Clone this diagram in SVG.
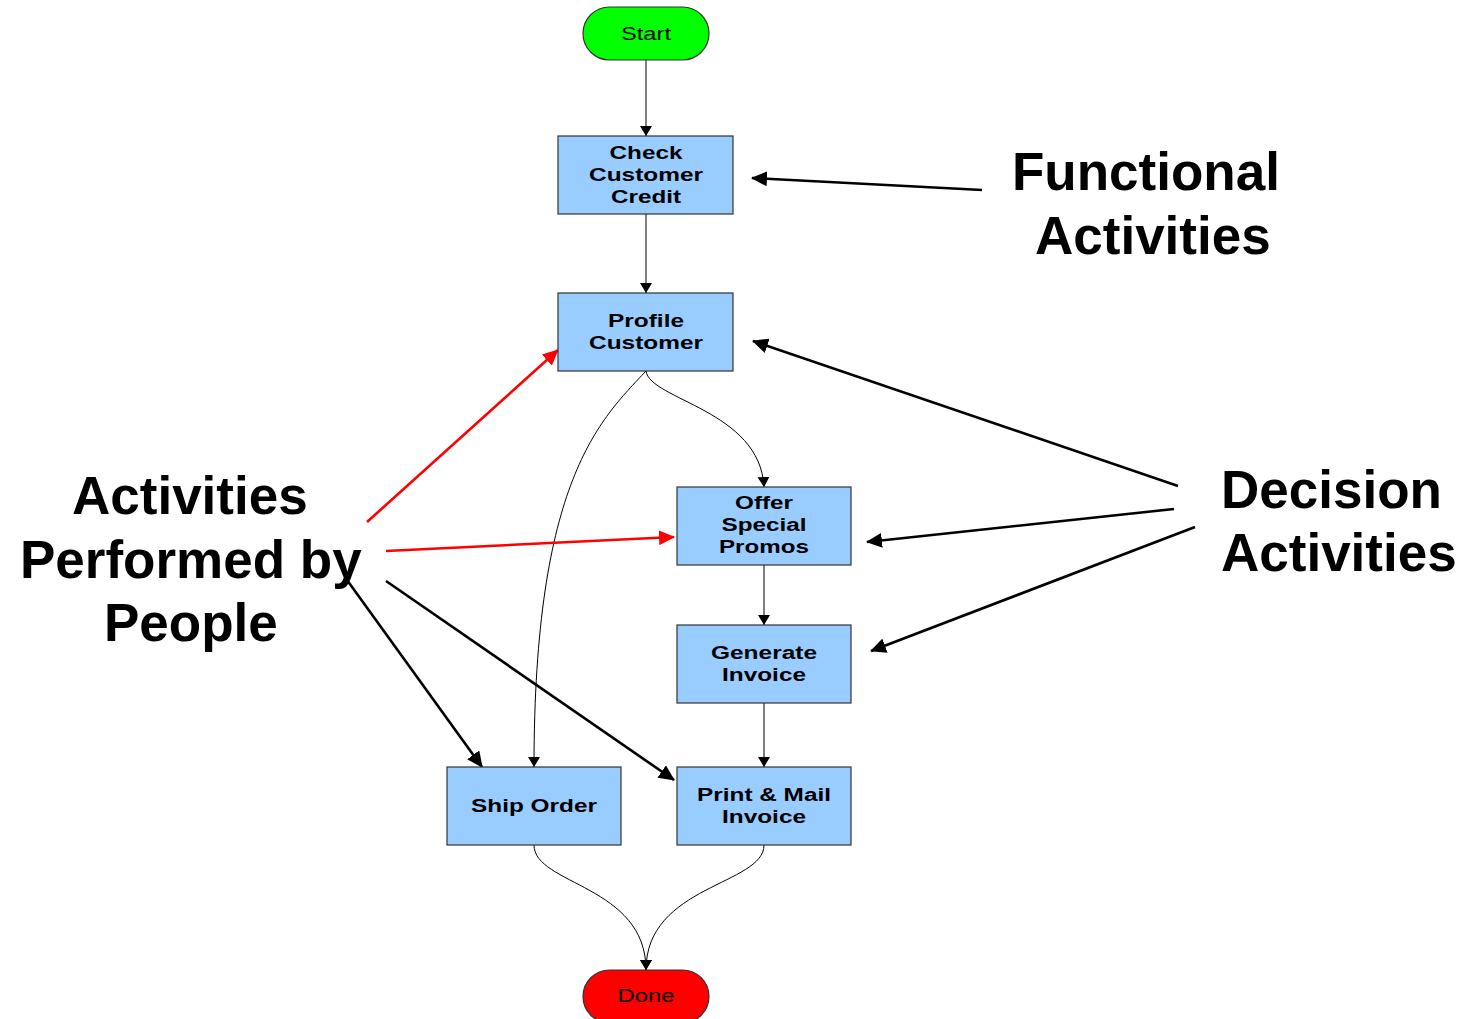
<svg xmlns="http://www.w3.org/2000/svg" width="1461" height="1019" viewBox="0 0 1461 1019">
<style>
.box{fill:#99CCFF;stroke:#333;stroke-width:1.2}
.t{font-family:"Liberation Sans",Arial,sans-serif;font-size:18px;font-weight:bold;fill:#000;text-anchor:middle}
.tr{font-family:"Liberation Sans",Arial,sans-serif;font-size:18px;fill:#000;text-anchor:middle}
.big{font-family:"Liberation Sans",Arial,sans-serif;font-size:53px;font-weight:bold;fill:#000}
.thin{fill:none;stroke:#000;stroke-width:1}
.thick{fill:none;stroke:#000;stroke-width:2.6}
.red{fill:none;stroke:#FF0000;stroke-width:2.6}
</style>
<defs>
<marker id="ah" markerUnits="userSpaceOnUse" viewBox="0 0 10 12" markerWidth="10" markerHeight="12" refX="10" refY="6" orient="auto"><path d="M0,0 L10,6 L0,12 z" fill="#000"/></marker>
<marker id="bh" markerUnits="userSpaceOnUse" viewBox="0 0 16 15" markerWidth="16" markerHeight="15" refX="15" refY="7.5" orient="auto"><path d="M0,0 L16,7.5 L0,15 z" fill="#000"/></marker>
<marker id="rh" markerUnits="userSpaceOnUse" viewBox="0 0 16 15" markerWidth="16" markerHeight="15" refX="15" refY="7.5" orient="auto"><path d="M0,0 L16,7.5 L0,15 z" fill="#FF0000"/></marker>
</defs>
<rect width="1461" height="1019" fill="#fff"/>

<g id="connectors">
<line class="thin" x1="646" y1="60" x2="646" y2="136" marker-end="url(#ah)"/>
<line class="thin" x1="646" y1="214" x2="646" y2="293" marker-end="url(#ah)"/>
<path class="thin" d="M646,371 C650,400 760,410 764,487" marker-end="url(#ah)"/>
<path class="thin" d="M646,371 C600,420 534,480 534,767" marker-end="url(#ah)"/>
<line class="thin" x1="764" y1="565" x2="764" y2="625" marker-end="url(#ah)"/>
<line class="thin" x1="764" y1="703" x2="764" y2="767" marker-end="url(#ah)"/>
<path class="thin" d="M534,845 C534,885 646,885 646,970" marker-end="url(#ah)"/>
<path class="thin" d="M764,845 C764,885 646,885 646,970" marker-end="url(#ah)"/>

<line class="thick" x1="982" y1="190" x2="752" y2="178" marker-end="url(#bh)"/>
<line class="thick" x1="1178" y1="486" x2="753" y2="341" marker-end="url(#bh)"/>
<line class="thick" x1="1174" y1="509" x2="867" y2="542" marker-end="url(#bh)"/>
<line class="thick" x1="1195" y1="527" x2="871" y2="651" marker-end="url(#bh)"/>
<line class="red" x1="367" y1="522" x2="558" y2="350" marker-end="url(#rh)"/>
<line class="red" x1="386" y1="551" x2="674" y2="537" marker-end="url(#rh)"/>
<line class="thick" x1="347" y1="580" x2="482" y2="767" marker-end="url(#bh)"/>
<line class="thick" x1="386" y1="581" x2="674" y2="780" marker-end="url(#bh)"/>
</g>

<g id="start">
<rect x="583" y="7" width="126" height="53" rx="26.5" fill="#00FF00" stroke="#333" stroke-width="1.2"/>
<text class="tr" x="646" y="40" textLength="50" lengthAdjust="spacingAndGlyphs">Start</text>
</g>
<g id="check-credit">
<rect class="box" x="558" y="136" width="175" height="78"/>
<text class="t" x="646" y="159" textLength="73" lengthAdjust="spacingAndGlyphs">Check</text>
<text class="t" x="646" y="181" textLength="114" lengthAdjust="spacingAndGlyphs">Customer</text>
<text class="t" x="646" y="203" textLength="70" lengthAdjust="spacingAndGlyphs">Credit</text>
</g>
<g id="profile-customer">
<rect class="box" x="558" y="293" width="175" height="78"/>
<text class="t" x="646" y="327" textLength="76" lengthAdjust="spacingAndGlyphs">Profile</text>
<text class="t" x="646" y="349" textLength="114" lengthAdjust="spacingAndGlyphs">Customer</text>
</g>
<g id="offer-promos">
<rect class="box" x="677" y="487" width="174" height="78"/>
<text class="t" x="764" y="509" textLength="58" lengthAdjust="spacingAndGlyphs">Offer</text>
<text class="t" x="764" y="531" textLength="85" lengthAdjust="spacingAndGlyphs">Special</text>
<text class="t" x="764" y="553" textLength="90" lengthAdjust="spacingAndGlyphs">Promos</text>
</g>
<g id="generate-invoice">
<rect class="box" x="677" y="625" width="174" height="78"/>
<text class="t" x="764" y="659" textLength="106" lengthAdjust="spacingAndGlyphs">Generate</text>
<text class="t" x="764" y="681" textLength="84" lengthAdjust="spacingAndGlyphs">Invoice</text>
</g>
<g id="ship-order">
<rect class="box" x="447" y="767" width="174" height="78"/>
<text class="t" x="534" y="812" textLength="126" lengthAdjust="spacingAndGlyphs">Ship Order</text>
</g>
<g id="print-mail">
<rect class="box" x="677" y="767" width="174" height="78"/>
<text class="t" x="764" y="801" textLength="134" lengthAdjust="spacingAndGlyphs">Print &amp; Mail</text>
<text class="t" x="764" y="823" textLength="84" lengthAdjust="spacingAndGlyphs">Invoice</text>
</g>
<g id="done">
<rect x="583" y="970" width="126" height="53" rx="26.5" fill="#FF0000" stroke="#333" stroke-width="1.2"/>
<text class="tr" x="646" y="1002" textLength="57" lengthAdjust="spacingAndGlyphs">Done</text>
</g>

<g id="label-functional">
<text class="big" x="1012" y="190">Functional</text>
<text class="big" x="1035" y="254">Activities</text>
</g>
<g id="label-decision">
<text class="big" x="1221" y="508">Decision</text>
<text class="big" x="1221" y="571">Activities</text>
</g>
<g id="label-people">
<text class="big" x="72" y="514">Activities</text>
<text class="big" x="20" y="578">Performed by</text>
<text class="big" x="104" y="641">People</text>
</g>
</svg>
